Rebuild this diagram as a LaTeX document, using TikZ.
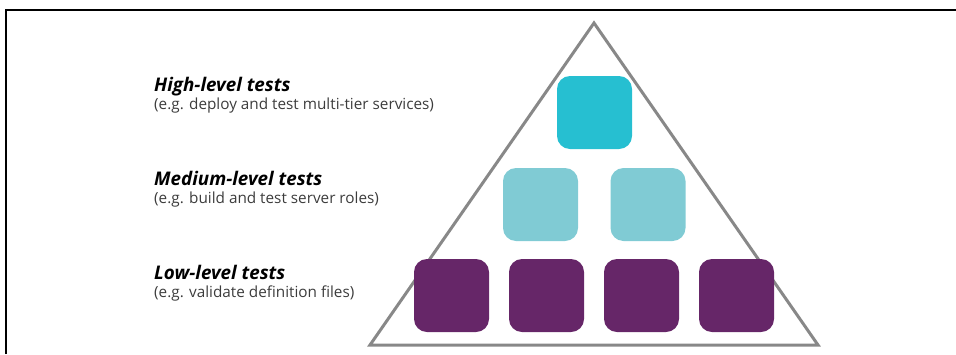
\documentclass[tikz,border=0pt]{standalone}
\usepackage{fontspec}
\setmainfont{Open Sans}
\usetikzlibrary{positioning}
\definecolor{TopCyan}{RGB}{38,191,209}
\definecolor{MidCyan}{RGB}{128,203,212}
\definecolor{LowPurple}{RGB}{102,38,104}
\definecolor{EdgeGray}{RGB}{136,136,136}
\definecolor{NoteGray}{RGB}{60,60,60}
\tikzset{
  tierbox/.style={rectangle,rounded corners=13pt,minimum width=75pt,
    minimum height=73pt,inner sep=0pt},
  tiertitle/.style={anchor=base west,inner sep=0pt,
    font=\fontsize{18.8}{20}\selectfont\bfseries\itshape},
  tiernote/.style={anchor=base west,inner sep=0pt,text=NoteGray,
    font=\fontsize{15.3}{17}\selectfont}
}
\begin{document}
\begin{tikzpicture}[x=1pt,y=-1pt]
  \useasboundingbox (0,0) rectangle (956,354);
  % frame
  \draw[line width=2pt] (6,354)--(6,9.5)--(956,9.5);
  % pyramid
  \coordinate (apex) at (594,23);
  \coordinate (bl) at (370,345);
  \coordinate (br) at (818,345);
  \draw[EdgeGray,line width=3pt,line join=miter] (apex)--(bl)--(br)--cycle;
  % boxes
  \node[tierbox,fill=TopCyan] (hi) at (594.5,112.5) {};
  \node[tierbox,fill=MidCyan] (mid1) at (540.5,204.5) {};
  \node[tierbox,fill=MidCyan] (mid2) at (648,204.5) {};
  \foreach \x [count=\i] in {451.5,546.5,641.5,736.5}
    \node[tierbox,fill=LowPurple] (low\i) at (\x,295.5) {};
  % labels
  \node[tiertitle] (hiT) at (154,91) {High-level tests};
  \node[tiernote] (hiN) at (154,109) {(e.g. deploy and test multi-tier services)};
  \node[tiertitle] (midT) at (154,185) {Medium-level tests};
  \node[tiernote] (midN) at (154,203) {(e.g. build and test server roles)};
  \node[tiertitle] (lowT) at (154,279) {Low-level tests};
  \node[tiernote] (lowN) at (154,297) {(e.g. validate definition files)};
\end{tikzpicture}
\end{document}
